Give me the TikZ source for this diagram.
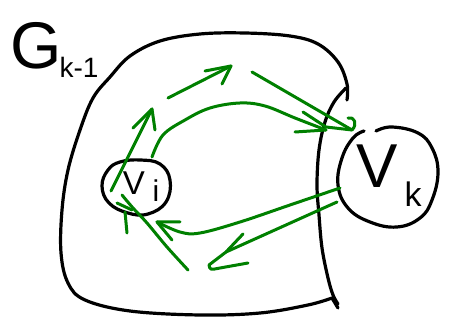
\documentclass[tikz,border=0pt]{standalone}
\usepackage{fontspec}
\setmainfont{Liberation Sans}
\begin{document}
\begin{tikzpicture}[x=1pt,y=-1pt,
  ink/.style={draw=black,line width=3.2pt,line cap=round,line join=round},
  gink/.style={draw=green!50!black,line width=3pt,line cap=round,line join=round},
  lbl/.style={inner sep=0pt,text=black}]
\useasboundingbox (0,0) rectangle (450,328);
% outer region G_{k-1}
\draw[ink] plot[smooth,tension=0.6] coordinates {(347,100) (347,84) (338,62) (318,44) (290,36) (245,33) (200,34) (160,41) (130,56) (110,77) (93,98) (80,130) (68,170) (62,210) (61,253) (68,283) (85,300) (130,311) (200,315) (260,313) (308,305) (332,298)} -- (338,308);
\draw[ink] plot[smooth,tension=0.6] coordinates {(346,88) (334,102) (325,122) (319,150) (317,185) (319,215) (322,248) (328,278) (333,295) (338,304)};
% circles
\draw[ink] plot[smooth cycle,tension=0.7] coordinates {(140,160) (160,164) (170,180) (166,202) (148,214) (128,213) (109,203) (102,186) (108,170) (120,162)};
\draw[ink] plot[smooth,tension=0.7] coordinates {(376,131) (392,127) (418,133) (432,148) (438,172) (432,200) (420,218) (397,227) (370,222) (348,208) (338,185) (342,158) (353,138) (364,131)};
% labels
\node[lbl,font=\fontsize{66}{66}\selectfont] (G) at (36,46) {G};
\node[lbl,font=\fontsize{28}{28}\selectfont] (Gs) at (79,67) {k-1};
\node[lbl,font=\fontsize{62}{62}\selectfont] (Vk) at (377,166) {V};
\node[lbl,font=\fontsize{34}{34}\selectfont] (Vks) at (413,194) {k};
\node[lbl,font=\fontsize{33}{33}\selectfont] (Vi) at (134,183) {V};
\node[lbl,font=\fontsize{30}{30}\selectfont] (Vis) at (156,191) {i};
% green arrows
\coordinate (a1s) at (111,191); \coordinate (a1t) at (152,109);
\draw[gink] (a1s) -- (a1t);
\draw[gink] (133,128) -- (a1t) -- (155,130);
\coordinate (a2s) at (168,98); \coordinate (a2t) at (231,66);
\draw[gink] (a2s) -- (a2t);
\draw[gink] (205,71) -- (a2t) -- (222,84);
\coordinate (a3s) at (252,72); \coordinate (a3t) at (352,130);
\draw[gink] (a3s) -- (a3t) .. controls (358,124) and (354,116) .. (348,118);
\draw[gink] (303,112) -- (326,127) -- (a3t);
\coordinate (c4s) at (152,157); \coordinate (c4t) at (326,130);
\draw[gink] plot[smooth,tension=0.6] coordinates {(c4s) (163,135) (185,120) (210,108) (240,103) (265,106) (295,118) (c4t)};
\draw[gink] (295,132) -- (c4t);
\coordinate (c5s) at (340,188); \coordinate (c5t) at (157,222);
\draw[gink] plot[smooth,tension=0.6] coordinates {(c5s) (290,205) (240,222) (200,233) (180,232) (c5t)};
\draw[gink] (180,222) -- (c5t) -- (172,240);
\coordinate (l6s) at (337,202); \coordinate (l6t) at (226,252);
\draw[gink] (l6s) -- (l6t);
\draw[gink] (243,234) -- (l6t) -- (209,265) .. controls (210,270) .. (220,268) -- (248,263);
\coordinate (c7s) at (188,270); \coordinate (c7t) at (122,195);
\draw[gink] plot[smooth,tension=0.6] coordinates {(c7s) (167,247) (147,223) (133,208) (c7t)};
\draw[gink] (117,203) -- (132,210);
\draw[gink] (127,233) -- (125,212);
\end{tikzpicture}
\end{document}
